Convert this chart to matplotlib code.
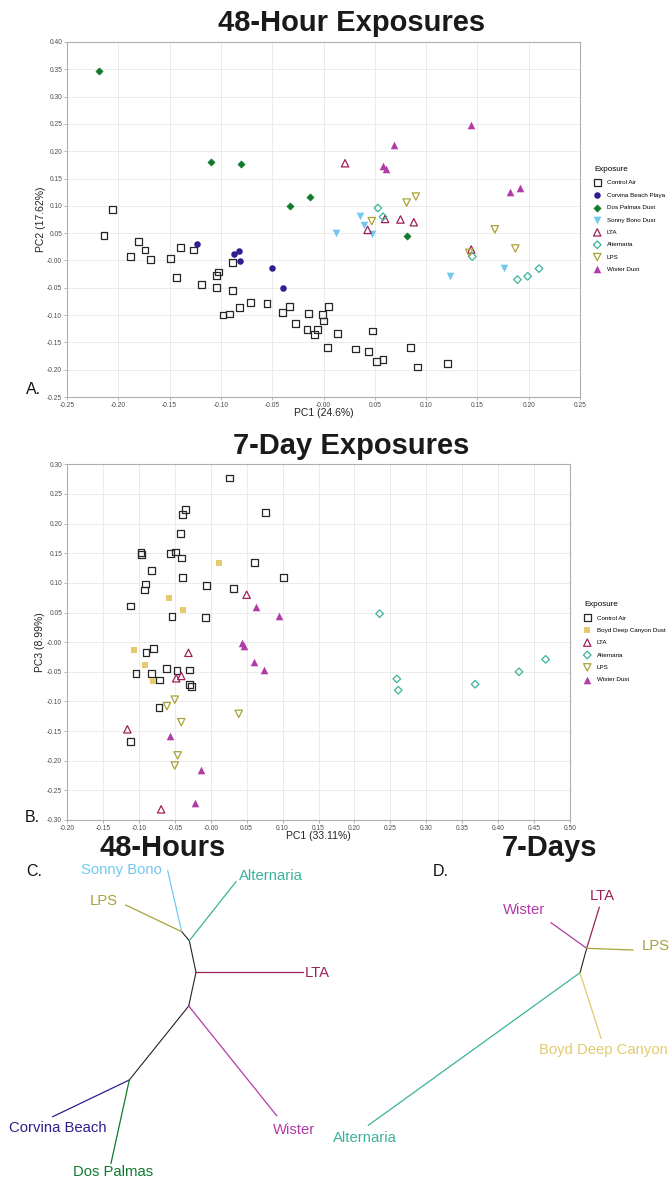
import numpy as np
import matplotlib
matplotlib.use("Agg")
import matplotlib.pyplot as plt

plt.rcParams['font.family'] = ['Liberation Sans', 'DejaVu Sans']
plt.rcParams['axes.unicode_minus'] = False

W, H = 671, 1178

# ---- 48-hour PCA (PC1 vs PC2) ----
ca48_x = [-0.206, -0.214, -0.180, -0.174, -0.188, -0.169, -0.149, -0.139, -0.127, -0.143,
          -0.119, -0.104, -0.102, -0.089, -0.104, -0.089, -0.098, -0.092, -0.082, -0.071,
          -0.055, -0.040, -0.033, -0.027, -0.015, -0.001, 0.005, 0.000, -0.016, -0.006,
          -0.009, 0.014, 0.048, 0.004, 0.031, 0.044, 0.085, 0.052, 0.058, 0.092, 0.121]
ca48_y = [0.093, 0.046, 0.034, 0.019, 0.007, 0.002, 0.004, 0.024, 0.019, -0.031,
          -0.044, -0.027, -0.021, -0.004, -0.050, -0.055, -0.100, -0.098, -0.086, -0.077,
          -0.079, -0.096, -0.084, -0.116, -0.097, -0.099, -0.085, -0.111, -0.127, -0.127,
          -0.135, -0.134, -0.129, -0.159, -0.162, -0.167, -0.159, -0.185, -0.181, -0.195, -0.189]
corvina_x = [-0.123, -0.087, -0.082, -0.081, -0.050, -0.039]
corvina_y = [0.031, 0.011, 0.018, -0.001, -0.014, -0.051]
dospalmas_x = [-0.2185, -0.110, -0.080, -0.033, -0.013, 0.081]
dospalmas_y = [0.347, 0.180, 0.176, 0.099, 0.116, 0.045]
sonny_x = [0.036, 0.039, 0.047, 0.012, 0.123, 0.176]
sonny_y = [0.082, 0.065, 0.048, 0.051, -0.029, -0.014]
lta48_x = [0.021, 0.060, 0.043, 0.075, 0.088, 0.144]
lta48_y = [0.178, 0.076, 0.056, 0.075, 0.070, 0.020]
alt48_x = [0.053, 0.058, 0.145, 0.189, 0.199, 0.210]
alt48_y = [0.096, 0.080, 0.007, -0.035, -0.029, -0.015]
lps48_x = [0.090, 0.081, 0.047, 0.167, 0.187, 0.142]
lps48_y = [0.117, 0.106, 0.072, 0.057, 0.022, 0.014]
wister48_x = [0.144, 0.069, 0.058, 0.061, 0.182, 0.192]
wister48_y = [0.248, 0.211, 0.173, 0.167, 0.126, 0.133]

# ---- 7-day PCA (PC1 vs PC3) ----
ca7_x = [-0.097, -0.0965, -0.082, -0.091, -0.092, -0.112, -0.056, -0.049, -0.041, -0.042,
         -0.039, -0.035, -0.039, -0.006, -0.054, -0.007, 0.026, 0.076, 0.061, 0.101, 0.032,
         -0.080, -0.090, -0.104, -0.082, -0.071, -0.061, -0.047, -0.029, -0.030, -0.027,
         -0.072, -0.112]
ca7_y = [0.151, 0.148, 0.121, 0.098, 0.088, 0.061, 0.150, 0.152, 0.142, 0.183,
         0.216, 0.224, 0.109, 0.095, 0.043, 0.041, 0.277, 0.219, 0.134, 0.109, 0.090,
         -0.011, -0.018, -0.053, -0.053, -0.064, -0.044, -0.048, -0.047, -0.072, -0.075,
         -0.110, -0.167]
boyd_x = [-0.058, -0.038, 0.012, -0.107, -0.092, -0.080]
boyd_y = [0.074, 0.055, 0.133, -0.013, -0.039, -0.065]
lta7_x = [-0.031, -0.041, -0.048, -0.116, -0.069, 0.050]
lta7_y = [-0.018, -0.057, -0.061, -0.147, -0.282, 0.080]
alt7_x = [0.235, 0.259, 0.261, 0.368, 0.429, 0.466]
alt7_y = [0.048, -0.062, -0.081, -0.071, -0.050, -0.029]
lps7_x = [-0.050, -0.061, -0.041, -0.046, -0.050, 0.039]
lps7_y = [-0.097, -0.108, -0.135, -0.191, -0.208, -0.121]
wister7_x = [-0.057, -0.013, -0.022, 0.043, 0.046, 0.060, 0.074, 0.063, 0.095]
wister7_y = [-0.159, -0.215, -0.271, -0.001, -0.007, -0.034, -0.047, 0.059, 0.044]

# ---- trees (layout positions in figure pixels) ----
tree48_nodes = {'A': (181.7, 931.7), 'B': (189.3, 940.7), 'C': (196.0, 972.3),
                'D': (188.7, 1006.0), 'E': (129.3, 1080.0)}
tree48_inner = [('A', 'B'), ('B', 'C'), ('C', 'D'), ('D', 'E')]
tree48_leaves = [  # name, node, tip, label pos, ha
    ('Sonny Bono', 'A', (167.7, 870.7), (162, 874), 'right'),
    ('LPS', 'A', (125.7, 905.0), (90, 905), 'left'),
    ('Alternaria', 'B', (236.0, 881.7), (239, 880), 'left'),
    ('LTA', 'C', (303.3, 972.3), (305, 977), 'left'),
    ('Wister', 'D', (276.7, 1115.7), (273, 1134), 'left'),
    ('Corvina Beach', 'E', (52.7, 1116.7), (9, 1132), 'left'),
    ('Dos Palmas', 'E', (111.0, 1163.3), (73, 1176), 'left'),
]
tree7_nodes = {'N1': (586.7, 948.3), 'N2': (580.0, 972.7)}
tree7_inner = [('N1', 'N2')]
tree7_leaves = [
    ('LTA', 'N1', (599.3, 907.3), (590, 900), 'left'),
    ('Wister', 'N1', (551.0, 922.7), (503, 914), 'left'),
    ('LPS', 'N1', (632.7, 950.0), (642, 950), 'left'),
    ('Boyd Deep Canyon', 'N2', (601.0, 1038.3), (539, 1054), 'left'),
    ('Alternaria', 'N2', (368.3, 1125.3), (397, 1142), 'right'),
]

colors = {'Control Air': '#262626', 'Corvina Beach': '#2d1f8f', 'Dos Palmas': '#0f7a2c',
          'Sonny Bono': '#72c8f1', 'LTA': '#9f2159', 'Alternaria': '#3bb39b',
          'LPS': '#aaa238', 'Wister': '#b23ba8', 'Boyd Deep Canyon': '#e3cb6e'}


def px_box(x0, y0, x1, y1):
    return [x0 / W, 1 - y1 / H, (x1 - x0) / W, (y1 - y0) / H]


def style_axes(ax, xt, yt):
    ax.set_xticks(xt)
    ax.set_yticks(yt)
    ax.set_xticklabels(['%.2f' % v for v in xt])
    ax.set_yticklabels(['%.2f' % v for v in yt])
    ax.set_xlim(xt[0], xt[-1])
    ax.set_ylim(yt[0], yt[-1])
    ax.tick_params(labelsize=4.8, colors='#9a9a9a', labelcolor='#4d4d4d', length=2, width=0.5, pad=1.5)
    ax.grid(True, color='#ebebeb', lw=0.7)
    ax.set_axisbelow(True)
    for s in ax.spines.values():
        s.set_color('#b0b0b0')
        s.set_linewidth(0.8)


def legend(ax, x, y):
    lg = ax.legend(loc='upper left', bbox_to_anchor=(x / W, 1 - y / H), bbox_transform=fig.transFigure,
                   frameon=False, fontsize=4.5, title='Exposure', title_fontsize=5.8, alignment='left',
                   borderpad=0, handlelength=1.0, handletextpad=1.0, labelspacing=1.12, scatterpoints=1)
    return lg


fig = plt.figure(figsize=(W / 100, H / 100), dpi=100)

# ---- panel A ----
ax1 = fig.add_axes(px_box(67, 42, 580, 397))
ax1.scatter(ca48_x, ca48_y, s=24, marker='s', facecolor='none', edgecolor=colors['Control Air'], lw=0.9, label='Control Air')
ax1.scatter(corvina_x, corvina_y, s=22, marker='o', color=colors['Corvina Beach'], lw=0, label='Corvina Beach Playa')
ax1.scatter(dospalmas_x, dospalmas_y, s=13, marker='D', color=colors['Dos Palmas'], lw=0.5, label='Dos Palmas Dust')
ax1.scatter(sonny_x, sonny_y, s=30, marker='v', color=colors['Sonny Bono'], lw=0, label='Sonny Bono Dust')
ax1.scatter(lta48_x, lta48_y, s=28, marker='^', facecolor='none', edgecolor=colors['LTA'], lw=0.9, label='LTA')
ax1.scatter(alt48_x, alt48_y, s=15, marker='D', facecolor='none', edgecolor=colors['Alternaria'], lw=0.9, label='Alternaria')
ax1.scatter(lps48_x, lps48_y, s=28, marker='v', facecolor='none', edgecolor=colors['LPS'], lw=0.9, label='LPS')
ax1.scatter(wister48_x, wister48_y, s=30, marker='^', color=colors['Wister'], lw=0, label='Wister Dust')
style_axes(ax1, np.round(np.arange(-0.25, 0.2501, 0.05), 2), np.round(np.arange(-0.25, 0.4001, 0.05), 2))
legend(ax1, 591, 163)

# ---- panel B ----
ax2 = fig.add_axes(px_box(67, 464.3, 570, 820))
ax2.scatter(ca7_x, ca7_y, s=24, marker='s', facecolor='none', edgecolor=colors['Control Air'], lw=0.9, label='Control Air')
ax2.scatter(boyd_x, boyd_y, s=16, marker='s', color=colors['Boyd Deep Canyon'], lw=0, label='Boyd Deep Canyon Dust')
ax2.scatter(lta7_x, lta7_y, s=28, marker='^', facecolor='none', edgecolor=colors['LTA'], lw=0.9, label='LTA')
ax2.scatter(alt7_x, alt7_y, s=15, marker='D', facecolor='none', edgecolor=colors['Alternaria'], lw=0.9, label='Alternaria')
ax2.scatter(lps7_x, lps7_y, s=28, marker='v', facecolor='none', edgecolor=colors['LPS'], lw=0.9, label='LPS')
ax2.scatter(wister7_x, wister7_y, s=30, marker='^', color=colors['Wister'], lw=0, label='Wister Dust')
style_axes(ax2, np.round(np.arange(-0.20, 0.5001, 0.05), 2), np.round(np.arange(-0.30, 0.3001, 0.05), 2))
legend(ax2, 581, 598)

# ---- overlay for titles, labels and trees ----
ov = fig.add_axes([0, 0, 1, 1])
ov.set_xlim(0, W)
ov.set_ylim(H, 0)
ov.axis('off')
ov.patch.set_alpha(0)

title_kw = dict(fontsize=21, fontweight='bold', color='#1a1a1a', va='baseline', ha='left')
ov.text(218, 30.7, '48-Hour Exposures', **title_kw)
ov.text(233, 454, '7-Day Exposures', **title_kw)
ov.text(99, 856, '48-Hours', **title_kw)
ov.text(502, 856, '7-Days', **title_kw)

for lab, x, y in [('A.', 26, 394), ('B.', 25, 822), ('C.', 26, 876), ('D.', 433, 876)]:
    ov.text(x, y, lab, fontsize=11.5, va='baseline', ha='left', color='#111111')

ax_lab = dict(fontsize=7.5, color='#222222', ha='center', va='center')
ov.text(323.5, 413, 'PC1 (24.6%)', **ax_lab)
ov.text(41, 219.5, 'PC2 (17.62%)', rotation=90, **ax_lab)
ov.text(318.5, 836, 'PC1 (33.11%)', **ax_lab)
ov.text(40, 642, 'PC3 (8.99%)', rotation=90, **ax_lab)


def draw_tree(nodes, inner, leaves):
    for a, b in inner:
        ov.plot([nodes[a][0], nodes[b][0]], [nodes[a][1], nodes[b][1]], color='#222222', lw=0.8)
    for name, node, tip, lpos, ha in leaves:
        c = colors[name]
        ov.plot([nodes[node][0], tip[0]], [nodes[node][1], tip[1]], color=c, lw=0.9)
        ov.text(lpos[0], lpos[1], name, color=c, fontsize=10.7, ha=ha, va='baseline')


draw_tree(tree48_nodes, tree48_inner, tree48_leaves)
draw_tree(tree7_nodes, tree7_inner, tree7_leaves)

fig.savefig('out.png', dpi=100)
